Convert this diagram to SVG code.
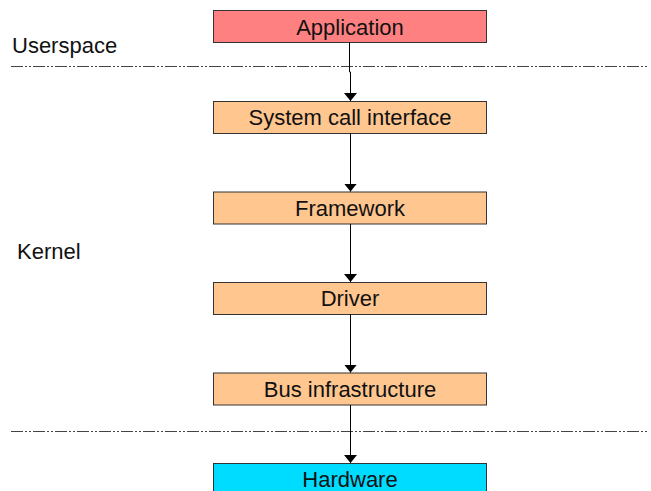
<svg xmlns="http://www.w3.org/2000/svg" width="651" height="491" viewBox="0 0 651 491">
  <defs>
    <marker id="arrow" viewBox="0 0 8 13" refX="8" refY="6.5" markerWidth="8" markerHeight="13" markerUnits="userSpaceOnUse" orient="auto">
      <path d="M0,0 L8,6.5 L0,13 Z" fill="#000"/>
    </marker>
  </defs>
  <style>
    .box { stroke: #333; stroke-width: 1; }
    .app { fill: #ff8080; }
    .layer { fill: #ffc690; }
    .hw { fill: #00dcff; }
    .label { font-family: "Liberation Sans", Arial, sans-serif; font-size: 22px; fill: #111; }
    .mid { text-anchor: middle; }
    .sep { stroke: #444; stroke-width: 1; stroke-dasharray: 12 2 2 2 2 2; fill: none; }
    .conn { stroke: #000; stroke-width: 1; fill: none; }
  </style>

  <rect width="651" height="491" fill="#fff"/>

  <!-- region separators and labels -->
  <g id="regions">
    <line class="sep" x1="11" y1="66.5" x2="648" y2="66.5"/>
    <line class="sep" x1="11" y1="431.5" x2="648" y2="431.5"/>
    <text class="label" x="12" y="53">Userspace</text>
    <text class="label" x="17" y="259">Kernel</text>
  </g>

  <g id="application">
    <rect class="box app" x="213.5" y="10.5" width="273" height="32"/>
    <text class="label mid" x="350" y="34.5">Application</text>
  </g>
  <g id="syscall">
    <rect class="box layer" x="213.5" y="101.5" width="273" height="32"/>
    <text class="label mid" x="350" y="125">System call interface</text>
  </g>
  <g id="framework">
    <rect class="box layer" x="213.5" y="192" width="273" height="32"/>
    <text class="label mid" x="350" y="215.5">Framework</text>
  </g>
  <g id="driver">
    <rect class="box layer" x="213.5" y="282.5" width="273" height="32"/>
    <text class="label mid" x="350" y="306">Driver</text>
  </g>
  <g id="bus">
    <rect class="box layer" x="213.5" y="373" width="273" height="32"/>
    <text class="label mid" x="350" y="396.5">Bus infrastructure</text>
  </g>
  <g id="hardware">
    <rect class="box hw" x="213.5" y="463.5" width="273" height="32"/>
    <text class="label mid" x="350" y="487">Hardware</text>
  </g>

  <g id="connectors">
    <path class="conn" d="M349.5,42.5 V72 H350.5 V101" marker-end="url(#arrow)"/>
    <path class="conn" d="M350.5,133.5 V191.5" marker-end="url(#arrow)"/>
    <path class="conn" d="M350.5,224 V282" marker-end="url(#arrow)"/>
    <path class="conn" d="M350.5,314.5 V372.5" marker-end="url(#arrow)"/>
    <path class="conn" d="M350.5,405 V463" marker-end="url(#arrow)"/>
  </g>
</svg>
